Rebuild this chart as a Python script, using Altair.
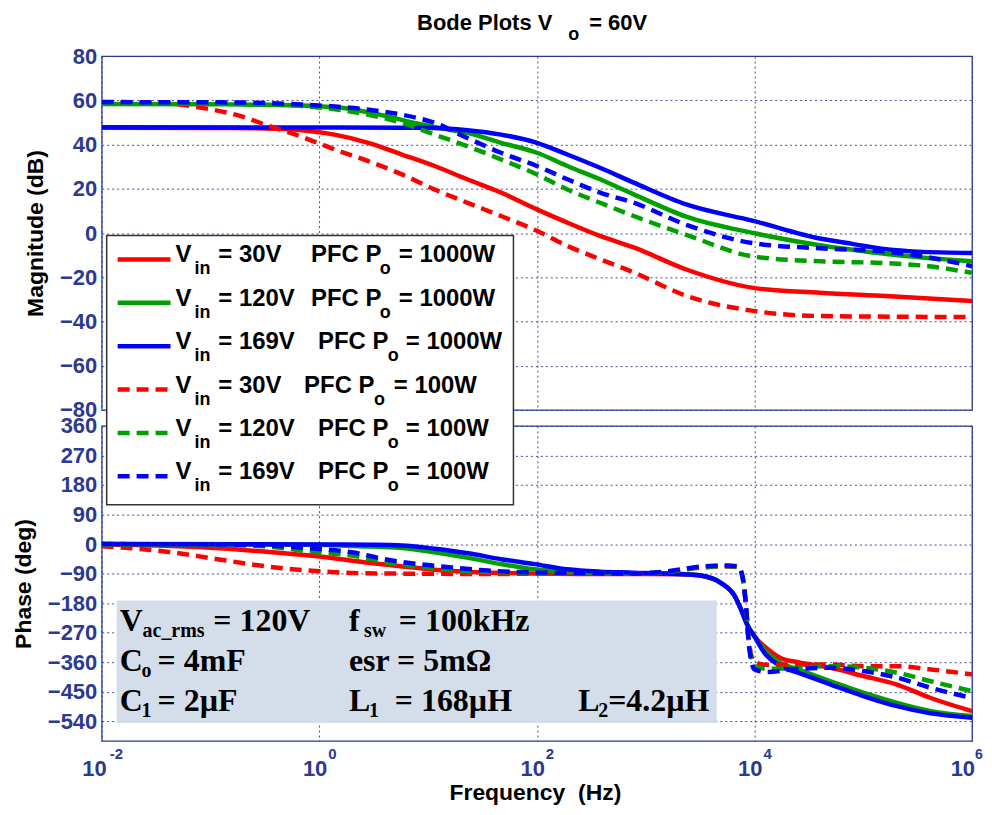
import altair as alt
import pandas as pd

# ---------------- data (log10 of frequency in Hz, value) ----------------
# Magnitude (dB)
MAG_RED_SOLID_F = [-2, -1, -0.5, -0.16, 0.14, 0.45, 0.76, 1.06, 1.36, 1.67, 2.0, 2.28, 2.58, 2.89, 3.38, 3.99, 4.6, 5.21, 6]
MAG_RED_SOLID_V = [47.6, 47.5, 47.3, 46.5, 44.5, 40.8, 35.5, 30.3, 24.3, 18.3, 10.7, 4.7, -1.3, -6.5, -16.6, -24.8, -27, -28.5, -30.7]
MAG_GREEN_SOLID_F = [-2, -1, -0.5, 0, 0.3, 0.6, 0.9, 1.12, 1.36, 1.67, 2.0, 2.28, 2.58, 2.89, 3.38, 3.99, 4.6, 4.91, 5.21, 6]
MAG_GREEN_SOLID_V = [58.3, 58.2, 58, 57.3, 56, 53, 49.5, 47.3, 45.3, 40.8, 36.3, 30.3, 24.3, 17.5, 7.3, 0, -5.5, -7.6, -9.5, -12.8]
MAG_BLUE_SOLID_F = [-2, 0, 0.76, 1.06, 1.36, 1.67, 2.0, 2.28, 2.58, 2.89, 3.38, 3.99, 4.6, 4.91, 5.21, 5.5, 6]
MAG_BLUE_SOLID_V = [47.8, 47.7, 47.6, 47.5, 46.5, 44.5, 40.8, 35.5, 29.5, 22.8, 12.8, 5.5, -2.5, -5, -7.3, -8.4, -9]
MAG_RED_DASH_F = [-2, -1.38, -1.08, -0.77, -0.46, -0.16, 0.14, 0.45, 0.76, 1.06, 1.36, 1.67, 2.0, 2.28, 2.58, 2.89, 3.38, 3.99, 4.6, 6]
MAG_RED_DASH_V = [58.8, 58.5, 56.6, 53.5, 48.4, 43.5, 37.8, 32.5, 26.5, 19.7, 13.7, 7.7, 1, -5.8, -11.8, -17.8, -28.5, -35.2, -37.5, -38]
MAG_GREEN_DASH_F = [-2, -1, -0.5, -0.16, 0.45, 0.76, 1.06, 1.36, 1.67, 2.0, 2.28, 2.58, 2.89, 3.38, 3.99, 4.6, 5.21, 5.6, 6]
MAG_GREEN_DASH_V = [58.6, 58.5, 58.2, 57.4, 53.5, 49.8, 44.5, 39.3, 33.3, 26.5, 19.7, 13.7, 7.7, -0.9, -10.6, -12.8, -13.6, -15, -18]
MAG_BLUE_DASH_F = [-2, -1, -0.5, -0.16, 0.45, 0.76, 1.06, 1.36, 1.67, 2.0, 2.28, 2.58, 2.89, 3.38, 3.99, 4.6, 5.21, 5.6, 6]
MAG_BLUE_DASH_V = [59.2, 59.1, 58.8, 58.1, 55.8, 53.5, 49.8, 43, 36.3, 30.3, 24.3, 18.3, 13.7, 3.6, -4.6, -6.9, -8.4, -11, -15]

# Phase (deg)
PH_RED_SOLID_F = [-2, -1.5, -1.08, -0.46, 0, 0.45, 0.76, 1.06, 1.4, 1.67, 2, 2.5, 3, 3.33, 3.51, 3.69, 3.82, 3.89, 3.94, 4.0, 4.09, 4.24, 4.4, 4.7, 5.0, 5.31, 5.62, 6]
PH_RED_SOLID_V = [-1, -4, -10, -24, -38, -57, -68, -78, -85, -88, -90, -91, -91, -92, -97, -118, -159, -210, -250, -281, -311, -347, -360, -377, -402, -428, -469, -509]
PH_GREEN_SOLID_F = [-2, -1, 0, 0.3, 0.76, 1.06, 1.37, 1.67, 1.98, 2.28, 2.6, 3, 3.33, 3.51, 3.69, 3.82, 3.89, 3.94, 4.0, 4.09, 4.24, 4.4, 4.7, 5.0, 5.31, 5.62, 6]
PH_GREEN_SOLID_V = [0, -1, -2, -6, -12, -25, -42, -61, -77, -85, -89, -90, -91, -96, -118, -159, -210, -250, -281, -321, -362, -382, -418, -453, -484, -509, -524]
PH_BLUE_SOLID_F = [-2, 0, 0.45, 0.76, 1.06, 1.37, 1.67, 1.98, 2.28, 2.58, 2.89, 3.2, 3.4, 3.51, 3.69, 3.82, 3.89, 3.94, 4.0, 4.09, 4.24, 4.4, 4.7, 5.0, 5.31, 5.62, 6]
PH_BLUE_SOLID_V = [0, -1, -2, -4, -14, -28, -46, -61, -77, -84, -87, -90, -93, -96, -118, -159, -210, -250, -281, -331, -372, -392, -428, -463, -494, -516, -529]
PH_RED_DASH_F = [-2, -1.84, -1.38, -0.92, -0.46, 0, 0.3, 0.7, 1.5, 2.5, 2.89, 3.2, 3.5, 3.63, 3.75, 3.85, 3.89, 3.92, 3.95, 4.0, 4.12, 4.4, 4.7, 5.0, 5.31, 5.62, 6]
PH_RED_DASH_V = [-7, -10, -24, -47, -69, -83, -88, -90, -91, -90, -90, -85, -72, -69, -68, -71, -100, -180, -300, -360, -368, -367, -367, -372, -372, -382, -397]
PH_GREEN_DASH_F = [-2, -1, -0.5, 0, 0.3, 0.6, 0.91, 1.21, 1.52, 1.82, 2.13, 2.5, 2.89, 3.2, 3.5, 3.63, 3.75, 3.85, 3.89, 3.92, 3.95, 4.0, 4.12, 4.34, 4.7, 5.0, 5.31, 5.62, 6]
PH_GREEN_DASH_V = [-1, -2, -7, -26, -35, -55, -69, -79, -84, -87, -89, -90, -90, -84, -71, -68, -67, -70, -100, -180, -305, -372, -380, -378, -372, -377, -392, -418, -448]
PH_BLUE_DASH_F = [-2, -1, -0.5, 0, 0.3, 0.6, 0.91, 1.21, 1.52, 1.82, 2.13, 2.5, 2.89, 3.2, 3.5, 3.63, 3.75, 3.85, 3.89, 3.92, 3.95, 4.0, 4.12, 4.34, 4.7, 5.0, 5.31, 5.62, 6]
PH_BLUE_DASH_V = [0, -1, -4, -15, -25, -46, -61, -71, -80, -85, -87, -89, -90, -83, -69, -66, -65, -68, -98, -179, -311, -382, -390, -382, -377, -387, -407, -438, -469]

# axis ticks / labels
X_TICKS = [0.01, 1, 100, 1e4, 1e6]
X_EXPONENTS = ["-2", "0", "2", "4", "6"]
MAG_TICKS = [-80, -60, -40, -20, 0, 20, 40, 60, 80]
PH_TICKS = [-540, -450, -360, -270, -180, -90, 0, 90, 180, 270, 360]

# texts
TITLE_PARTS = ["Bode Plots V", "o", "= 60V"]
X_TITLE = "Frequency\u00a0\u00a0(Hz)"
LEG_VIN = ["= 30V", "= 120V", "= 169V", "= 30V", "= 120V", "= 169V"]
LEG_PO = ["= 1000W", "= 1000W", "= 1000W", "= 100W", "= 100W", "= 100W"]
BOX_MAIN = [["V", "= 120V", "f", "= 100kHz"],
            ["C", "= 4mF", "esr = 5mΩ"],
            ["C", "= 2µF", "L", "= 168µH", "L", "=4.2µH"]]
BOX_SUB = [["ac_rms", "sw"], ["o"], ["1", "1", "2"]]

# ---------------- styles ----------------
RED, GREEN, BLUE = "#FF0000", "#00A000", "#0000FF"
AX = "#2A3A92"
SANS = "Liberation Sans"
SERIF = "Liberation Serif"
DASH = [12, 7]
W, H_TOP, H_BOT = 873, 355, 316

xscale = alt.Scale(type="log", domain=[0.01, 1e6], nice=False)
xaxis = alt.Axis(values=X_TICKS, labels=False, ticks=False, domain=False, title=None,
                 grid=True, gridColor=AX, gridDash=[2, 3], gridWidth=1, gridOpacity=0.9)

one = pd.DataFrame({"k": [0]})


def frame(fl, vl):
    return pd.DataFrame({"f": [10 ** e for e in fl], "v": vl})


def yaxis(ticks, title, tpad):
    return alt.Axis(values=ticks, grid=True, gridColor=AX, gridDash=[2, 3], gridWidth=1, gridOpacity=0.9,
                    domain=False, ticks=False, labelFont=SANS, labelFontWeight="bold", labelFontSize=22,
                    labelColor=AX, labelPadding=5, labelOverlap=False, labelFlush=False,
                    title=title, titleFont=SANS, titleFontWeight="bold", titleFontSize=23,
                    titleColor="black", titlePadding=tpad)


def line(df, color, dashed, yscale, yax):
    kw = dict(color=color, strokeWidth=4.5, interpolate="monotone", clip=True)
    if dashed:
        kw["strokeDash"] = DASH
    return alt.Chart(df).mark_line(**kw).encode(
        x=alt.X("f:Q", scale=xscale, axis=xaxis),
        y=alt.Y("v:Q", scale=yscale, axis=yax))


def txt(s, x, y, size, font=SANS, align="left", color="black", baseline="alphabetic"):
    return alt.Chart(one).mark_text(text=s, font=font, fontSize=size, fontWeight="bold", color=color,
                                    align=align, baseline=baseline).encode(
        x=alt.value(x), y=alt.value(y))


# ---------------- top panel: magnitude ----------------
mscale = alt.Scale(domain=[-80, 80], nice=False, zero=False)
max_ = yaxis(MAG_TICKS, "Magnitude (dB)", 12)
mag_series = [(MAG_RED_SOLID_F, MAG_RED_SOLID_V, RED, False),
              (MAG_GREEN_SOLID_F, MAG_GREEN_SOLID_V, GREEN, False),
              (MAG_BLUE_SOLID_F, MAG_BLUE_SOLID_V, BLUE, False),
              (MAG_RED_DASH_F, MAG_RED_DASH_V, RED, True),
              (MAG_GREEN_DASH_F, MAG_GREEN_DASH_V, GREEN, True),
              (MAG_BLUE_DASH_F, MAG_BLUE_DASH_V, BLUE, True)]
top_layers = [line(frame(f, v), c, d, mscale, max_) for f, v, c, d in mag_series]
top_layers += [txt(TITLE_PARTS[0], 452, -43.4, 22, align="right", baseline="top"),
               txt(TITLE_PARTS[1], 468, -30.2, 18, baseline="top"),
               txt(TITLE_PARTS[2], 489, -43.4, 22, baseline="top")]
top = alt.layer(*top_layers).properties(width=W, height=H_TOP)

# ---------------- bottom panel: phase ----------------
pscale = alt.Scale(domain=[-600, 360], nice=False, zero=False)
pax = yaxis(PH_TICKS, "Phase (deg)", 12)
ph_series = [(PH_RED_SOLID_F, PH_RED_SOLID_V, RED, False),
             (PH_GREEN_SOLID_F, PH_GREEN_SOLID_V, GREEN, False),
             (PH_BLUE_SOLID_F, PH_BLUE_SOLID_V, BLUE, False),
             (PH_RED_DASH_F, PH_RED_DASH_V, RED, True),
             (PH_GREEN_DASH_F, PH_GREEN_DASH_V, GREEN, True),
             (PH_BLUE_DASH_F, PH_BLUE_DASH_V, BLUE, True)]
bot_layers = [line(frame(f, v), c, d, pscale, pax) for f, v, c, d in ph_series]

# parameter box
bot_layers.append(alt.Chart(one).mark_rect(color="#D4DEEA").encode(
    x=alt.value(15), x2=alt.value(617), y=alt.value(175), y2=alt.value(298)))
box_rows_y = [206, 245.5, 286]
box_main_x = [[18, 112, 248, 298], [18, 56, 248], [18, 56, 248, 294, 478, 508]]
box_sub_x = [[41, 263], [40], [40, 268, 498]]
for r in range(3):
    for s, x in zip(BOX_MAIN[r], box_main_x[r]):
        bot_layers.append(txt(s, x, box_rows_y[r], 32, font=SERIF))
    for s, x in zip(BOX_SUB[r], box_sub_x[r]):
        bot_layers.append(txt(s, x, box_rows_y[r] + 6, 20, font=SERIF))

# legend
bot_layers.append(alt.Chart(one).mark_rect(fill="white", stroke="#333333", strokeWidth=1.5).encode(
    x=alt.value(5), x2=alt.value(413), y=alt.value(-191), y2=alt.value(79)))
leg_style = [(RED, False), (GREEN, False), (BLUE, False), (RED, True), (GREEN, True), (BLUE, True)]
leg_vin_x = [117, 117, 117, 117, 117, 117]
leg_pfc_x = [210, 210, 217, 203, 217, 217]
leg_o_x = [279, 279, 287, 273, 287, 287]
leg_po_x = [298, 298, 305, 293, 305, 305]
for i, (c, d) in enumerate(leg_style):
    yb = -164 + 43.5 * i
    kw = dict(color=c, strokeWidth=4.5)
    if d:
        kw["strokeDash"] = DASH
    bot_layers.append(alt.Chart(one).mark_rule(**kw).encode(
        x=alt.value(16), x2=alt.value(69), y=alt.value(yb - 3)))
    bot_layers += [txt("V", 74, yb, 24), txt("in", 93, yb + 12, 18),
                   txt(LEG_VIN[i], leg_vin_x[i], yb, 24),
                   txt("PFC P", leg_pfc_x[i], yb, 24),
                   txt("o", leg_o_x[i], yb + 12, 18),
                   txt(LEG_PO[i], leg_po_x[i], yb, 24)]

# x tick labels 10^k
xt = pd.DataFrame({"f": X_TICKS, "e": X_EXPONENTS})
for sub, dx, dxe, esz in [(xt.iloc[:1], 5, 8, 15), (xt.iloc[1:4], 8, 9, 15), (xt.iloc[4:], 3, 3, 14)]:
    bot_layers.append(alt.Chart(sub).mark_text(text="10", font=SANS, fontWeight="bold", fontSize=22,
                                               color=AX, align="right", baseline="alphabetic", dx=dx).encode(
        x=alt.X("f:Q", scale=xscale, axis=xaxis), y=alt.value(351)))
    bot_layers.append(alt.Chart(sub).mark_text(font=SANS, fontWeight="bold", fontSize=esz,
                                               color=AX, align="left", baseline="alphabetic", dx=dxe).encode(
        x=alt.X("f:Q", scale=xscale, axis=xaxis), y=alt.value(334), text="e:N"))
bot_layers.append(txt(X_TITLE, 435, 380, 23, align="center", baseline="bottom"))

bottom = alt.layer(*bot_layers).properties(width=W, height=H_BOT)

chart = alt.vconcat(top, bottom, spacing=16, bounds="flush").properties(
    padding={"left": 3, "top": 1, "right": 0, "bottom": 0}
).configure_view(stroke=AX, strokeWidth=1.3)

chart.save("out.html", embed_options={"renderer": "svg", "actions": False})
